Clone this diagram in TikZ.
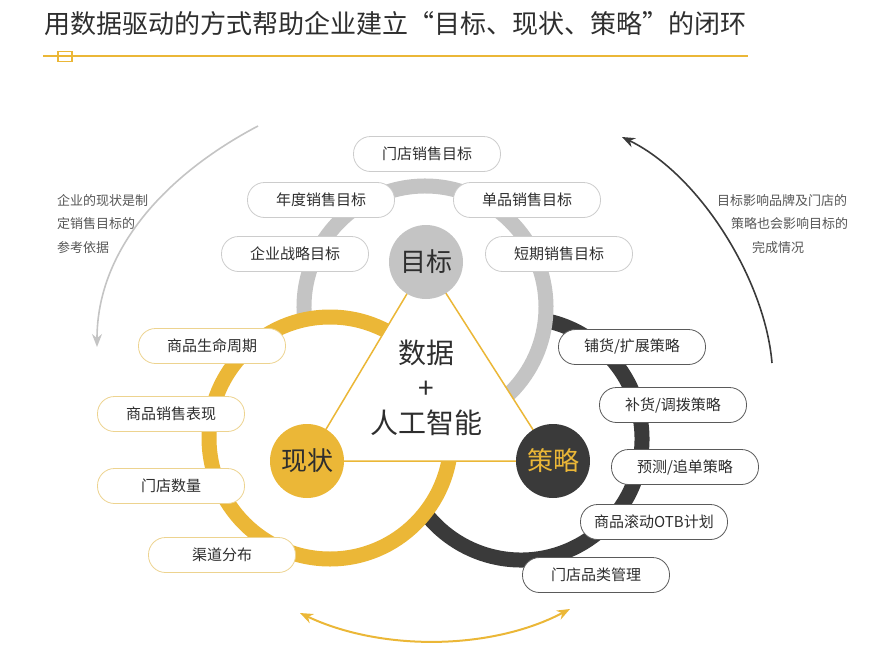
\documentclass[tikz,border=0pt]{standalone}
\usepackage{fontspec}
\setmainfont{Noto Sans CJK SC}
\usepackage{tikz}
\usetikzlibrary{arrows.meta}
\definecolor{ringgray}{HTML}{C4C4C4}
\definecolor{ringgold}{HTML}{EBB737}
\definecolor{ringdark}{HTML}{3A3A3A}
\definecolor{textdark}{HTML}{2E2E2E}
\definecolor{textgray}{HTML}{555555}
\definecolor{pillgold}{HTML}{EDD38F}
\definecolor{pillgray}{HTML}{CCCCCC}
\definecolor{pilldark}{HTML}{5A5A5A}

\begin{document}
\begin{tikzpicture}[x=1pt,y=-1pt,
    pill/.style={draw,fill=white,rounded corners=17pt,minimum width=147pt,minimum height=35pt,
      inner sep=0pt,line width=0.8pt,text=textdark,font=\fontsize{15}{18}\selectfont},
    goalpill/.style={pill,draw=pillgray},
    nowpill/.style={pill,draw=pillgold},
    planpill/.style={pill,draw=pilldark},
    hub/.style={circle,minimum size=74pt,inner sep=0pt,font=\fontsize{26}{30}\selectfont},
    ring/.style={line width=15pt},
    note/.style={text=textgray,font=\fontsize{13}{23.5}\selectfont,align=left,inner sep=0pt},
    bigtip/.tip={Stealth[length=13pt,width=10pt]}]
  \useasboundingbox (0,0) rectangle (889,645);
  \node[anchor=base west,inner sep=0pt,text=textdark,font=\fontsize{26}{30}\selectfont] (title) at (44,33)
    {用数据驱动的方式帮助企业建立“目标、现状、策略”的闭环};
  \coordinate (ruleL) at (43,56);
  \coordinate (ruleR) at (748,56);
  \draw[ringgold,line width=1.5pt] (ruleL) -- (ruleR);
  \draw[ringgold,line width=1.2pt] (58,51.5) rectangle (72,61.5);

  \coordinate (cgoal) at (426,262);
  \coordinate (cnow) at (307,461);
  \coordinate (cplan) at (553,461);
  \draw[ring,ringdark] (521,439) ++(-78.5:121) arc[start angle=-78.5,end angle=142.2,radius=121];
  \draw[ring,ringgray] (425,307) ++(174:121) arc[start angle=174,end angle=440,radius=121];
  \draw[ring,ringgold] (330,438) circle[radius=121];
  \filldraw[fill=white,draw=ringgold,line width=1.5pt] (cgoal) -- (cnow) -- (cplan) -- cycle;

  \node[hub,fill=ringgray,text=textdark] (goal) at (cgoal) {目标};
  \node[hub,fill=ringgold,text=textdark] (now) at (cnow) {现状};
  \node[hub,fill=ringdark,text=ringgold] (plan) at (cplan) {策略};
  \node[align=center,text=textdark,font=\fontsize{28}{35}\selectfont] (core) at (426,388) {数据\\+\\人工智能};

  \foreach \n/\x/\y/\t in {g1/427/154/门店销售目标,g2/321/200/年度销售目标,g3/527/200/单品销售目标,
      g4/295/254/企业战略目标,g5/559/254/短期销售目标}
    \node[goalpill] (\n) at (\x,\y) {\t};
  \foreach \n/\x/\y/\t in {n1/212/346/商品生命周期,n2/171/414/商品销售表现,n3/171/486/门店数量,n4/222/555/渠道分布}
    \node[nowpill] (\n) at (\x,\y) {\t};
  \foreach \n/\x/\y/\t in {p1/632/347/{铺货/扩展策略},p2/673/405/{补货/调拨策略},p3/685/467/{预测/追单策略},
      p4/654/522/商品滚动OTB计划,p5/596/575/门店品类管理}
    \node[planpill] (\n) at (\x,\y) {\t};

  \node[note,anchor=west] (leftnote) at (57,224) {企业的现状是制\\定销售目标的\\参考依据};
  \node[note,anchor=west] (rightnote) at (717,224)
    {目标影响品牌及门店的\\\hspace*{14pt}策略也会影响目标的\\\hspace*{35pt}完成情况};

  \coordinate (ltop) at (258,126);
  \coordinate (lbot) at (97,347);
  \coordinate (rbot) at (772,363);
  \coordinate (rtop) at (622,137);
  \coordinate (bl) at (300,613);
  \coordinate (br) at (570,609);
  \draw[ringgray,line width=1.6pt,-bigtip] (ltop) .. controls (165,175) and (97,250) .. (lbot);
  \draw[ringdark,line width=1.6pt,-bigtip] (rbot) .. controls (765,280) and (700,175) .. (rtop);
  \draw[ringgold,line width=2pt,bigtip-bigtip] (bl) .. controls (380,651) and (490,651) .. (br);
\end{tikzpicture}
\end{document}
